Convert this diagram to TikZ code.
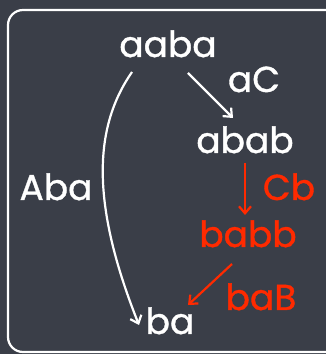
\documentclass[tikz,border=0pt]{standalone}
\usepackage{fontspec}
\newfontfamily\chalk[FakeBold=1]{Poppins}
\usetikzlibrary{arrows.meta,calc}
\definecolor{board}{RGB}{58,62,72}
\definecolor{chalkred}{RGB}{255,42,0}
\tikzset{
  word/.style={font=\chalk\fontsize{36}{40}\selectfont, inner sep=0pt, anchor=base, text=white},
  redword/.style={word, text=chalkred},
  conn/.style={line width=2.2pt, white, -{Straight Barb[length=7pt,width=12pt,line width=2.2pt]}},
  redconn/.style={conn, chalkred}
}
\begin{document}
\begin{tikzpicture}[x=1pt,y=1pt]
\fill[board] (0,0) rectangle (326,354);
\useasboundingbox (0,0) rectangle (326,354);
\draw[white, line width=2.2pt, rounded corners=15pt] (8,2) rectangle (340,344);
\node[word] (aaba) at (168,297) {aaba};
\node[word] (aC) at (254,262) {aC};
\node[word] (abab) at (245,201) {abab};
\node[redword] (Cb) at (289,154) {Cb};
\node[redword] (babb) at (248,107) {babb};
\node[redword] (baB) at (261,44) {baB};
\node[word] (ba) at (170,20) {ba};
\node[word] (Aba) at (56,154) {Aba};
\draw[conn] ($(aaba.base)+(20,-16)$) -- ($(abab.base)+(-12,35)$);
\draw[redconn] ($(abab.base)+(0,-10)$) -- ($(babb.base)+(-3,32)$);
\draw[redconn] ($(babb.base)+(-16,-17)$) -- ($(ba.base)+(18,29)$);
\draw[conn] ($(aaba.base)+(-36,-15)$) .. controls (96,230) and (88,157) .. ($(ba.base)+(-31,9)$);
\end{tikzpicture}
\end{document}
